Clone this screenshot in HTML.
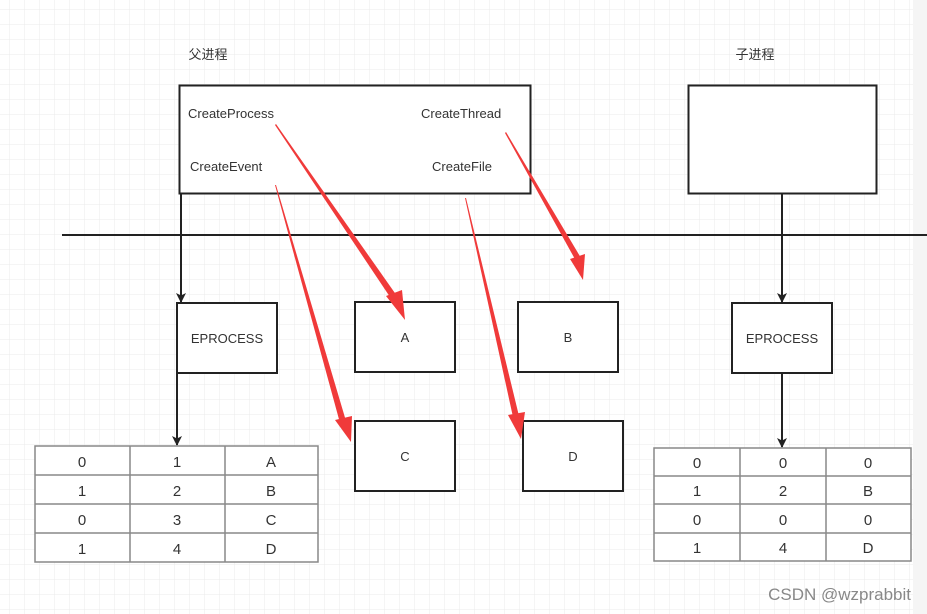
<!DOCTYPE html>
<html><head><meta charset="utf-8"><style>
html,body{margin:0;padding:0;background:#fff}
svg{display:block}
text{font-family:"Liberation Sans","Noto Sans CJK SC",sans-serif;fill:#333}
</style></head><body>
<svg width="927" height="614" viewBox="0 0 927 614" xmlns="http://www.w3.org/2000/svg">
<defs>
<pattern id="g" x="9" y="9" width="15" height="15" patternUnits="userSpaceOnUse">
<path d="M0 0H15M0 0V15" stroke="#ebebeb" stroke-width="1" fill="none"/>
</pattern>
<marker id="ah" markerWidth="10" markerHeight="10" refX="9" refY="5" orient="auto" markerUnits="userSpaceOnUse">
<path d="M0 0L10 5L0 10L2.5 5Z" fill="#222"/>
</marker>
</defs>
<rect width="913" height="614" fill="url(#g)"/>
<rect x="913" width="14" height="614" fill="#f5f5f5"/>

<text x="208" y="59" font-size="13" text-anchor="middle">父进程</text>
<text x="755" y="59" font-size="13" text-anchor="middle">子进程</text>

<rect x="179.5" y="85.5" width="351" height="108" fill="#fff" stroke="#222" stroke-width="2"/>
<text x="188" y="118" font-size="13">CreateProcess</text>
<text x="421" y="118" font-size="13">CreateThread</text>
<text x="190" y="171" font-size="13">CreateEvent</text>
<text x="432" y="171" font-size="13">CreateFile</text>
<rect x="688.5" y="85.5" width="188" height="108" fill="#fff" stroke="#222" stroke-width="2"/>

<line x1="62" y1="235" x2="927" y2="235" stroke="#222" stroke-width="2"/>

<g fill="#fff" stroke="#222" stroke-width="2">
<rect x="177" y="303" width="100" height="70"/>
<rect x="355" y="302" width="100" height="70"/>
<rect x="518" y="302" width="100" height="70"/>
<rect x="732" y="303" width="100" height="70"/>
<rect x="355" y="421" width="100" height="70"/>
<rect x="523" y="421" width="100" height="70"/>
</g>
<g font-size="13" text-anchor="middle">
<text x="227" y="343">EPROCESS</text>
<text x="405" y="342">A</text>
<text x="568" y="342">B</text>
<text x="782" y="343">EPROCESS</text>
<text x="405" y="461">C</text>
<text x="573" y="461">D</text>
</g>

<g stroke="#222" stroke-width="2" marker-end="url(#ah)">
<line x1="181" y1="194" x2="181" y2="302"/>
<line x1="177" y1="373" x2="177" y2="445"/>
<line x1="782" y1="194" x2="782" y2="302"/>
<line x1="782" y1="373" x2="782" y2="447"/>
</g>

<!-- tables -->
<g stroke="#888" stroke-width="1.5" fill="#fff">
<rect x="35" y="446" width="283" height="116"/>
<line x1="35" y1="475" x2="318" y2="475"/><line x1="35" y1="504" x2="318" y2="504"/><line x1="35" y1="533" x2="318" y2="533"/>
<line x1="130" y1="446" x2="130" y2="562"/><line x1="225" y1="446" x2="225" y2="562"/>
<rect x="654" y="448" width="257" height="113"/>
<line x1="654" y1="476" x2="911" y2="476"/><line x1="654" y1="504" x2="911" y2="504"/><line x1="654" y1="533" x2="911" y2="533"/>
<line x1="740" y1="448" x2="740" y2="561"/><line x1="826" y1="448" x2="826" y2="561"/>
</g>
<g font-size="15" text-anchor="middle">
<text x="82" y="467">0</text><text x="177" y="467">1</text><text x="271" y="467">A</text>
<text x="82" y="496">1</text><text x="177" y="496">2</text><text x="271" y="496">B</text>
<text x="82" y="525">0</text><text x="177" y="525">3</text><text x="271" y="525">C</text>
<text x="82" y="554">1</text><text x="177" y="554">4</text><text x="271" y="554">D</text>
<text x="697" y="468">0</text><text x="783" y="468">0</text><text x="868" y="468">0</text>
<text x="697" y="496">1</text><text x="783" y="496">2</text><text x="868" y="496">B</text>
<text x="697" y="525">0</text><text x="783" y="525">0</text><text x="868" y="525">0</text>
<text x="697" y="553">1</text><text x="783" y="553">4</text><text x="868" y="553">D</text>
</g>

<!-- red tapered arrows -->
<g fill="#f03a3a">
<polygon points="275,125 276,124 397,296 392,300"/>
<polygon points="386,296 405,320 402,290"/>
<polygon points="505,133 506,132 581,258 576,261"/>
<polygon points="570,259 583,280 585,254"/>
<polygon points="275,185 276,185 346,421 340,423"/>
<polygon points="335,420 351,442 352,416"/>
<polygon points="465,198 466,198 519,416 513,417"/>
<polygon points="508,415 521,439 525,412"/>
</g>

<text x="911" y="600" font-size="17" text-anchor="end" style="fill:#888">CSDN @wzprabbit</text>
</svg>
</body></html>
